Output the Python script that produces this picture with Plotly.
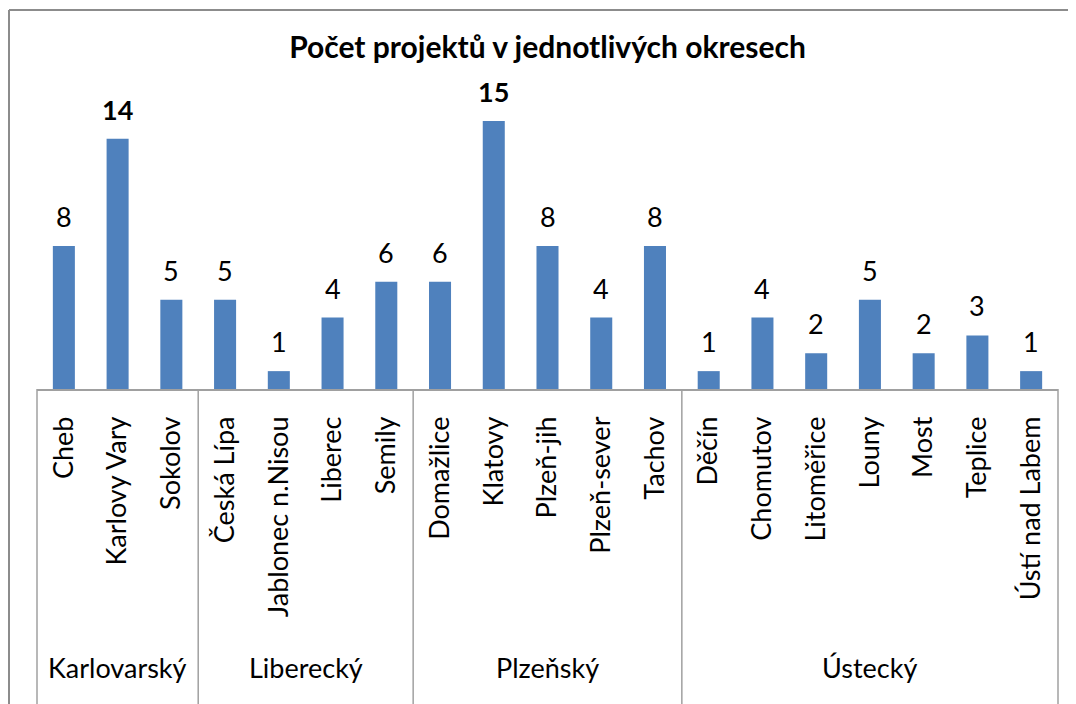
import plotly.graph_objects as go

regions = ["Karlovarský", "Liberecký", "Plzeňský", "Ústecký"]
districts = [
    ["Cheb", "Karlovy Vary", "Sokolov"],
    ["Česká Lípa", "Jablonec n.Nisou", "Liberec", "Semily"],
    ["Domažlice", "Klatovy", "Plzeň-jih", "Plzeň-sever", "Tachov"],
    ["Děčín", "Chomutov", "Litoměřice", "Louny", "Most", "Teplice", "Ústí nad Labem"],
]
counts = [
    [8, 14, 5],
    [5, 1, 4, 6],
    [6, 15, 8, 4, 8],
    [1, 4, 2, 5, 2, 3, 1],
]
title = "Počet projektů v jednotlivých okresech"

FONT = "Lato"
FS = 27
BAR = "#4F81BD"
GRID = "#A0A0A0"

names = [d for g in districts for d in g]
vals = [v for g in counts for v in g]
idx = list(range(len(names)))
n = len(names)

fig = go.Figure(go.Bar(x=idx, y=vals, marker=dict(color=BAR, line=dict(width=0)), width=0.41))

OFF = 8  # page body margin
W, H = 1068, 696
L, R, T, B = 37 - OFF, 1058 - OFF, 103 - OFF, 389 - OFF
ph = B - T
pw = R - L

ann = []
for i, v in zip(idx, vals):
    txt = f"<b>{v}</b>" if v >= 14 else str(v)
    ann.append(dict(x=i, y=v, xref="x", yref="y", text=txt, showarrow=False,
                    yanchor="bottom", yshift=11, font=dict(family=FONT, size=FS, color="black")))

shapes = []
start = 0
bounds = [0]
for g_name, g in zip(regions, districts):
    c = start + (len(g) - 1) / 2
    ann.append(dict(x=c, y=0, xref="x", yref="paper", text=g_name, showarrow=False,
                    yanchor="middle", yshift=-(667 - 389), font=dict(family=FONT, size=FS, color="black")))
    start += len(g)
    bounds.append(start)

for b in bounds:
    xp = b / n
    shapes.append(dict(type="line", xref="paper", yref="paper", x0=xp, x1=xp,
                       y0=0, y1=-(H - B + 10) / ph, line=dict(color=GRID, width=1.5)))

# outer chart frame (left and top)
fx = (1 - L) / pw
fy = (B - 2) / ph
shapes.append(dict(type="line", xref="paper", yref="paper", x0=fx, x1=fx, y0=fy, y1=-(H - B + 10) / ph,
                   line=dict(color="#8C8C8C", width=2)))
shapes.append(dict(type="line", xref="paper", yref="paper", x0=fx, x1=(W - L + 20) / pw, y0=fy, y1=fy,
                   line=dict(color="#8C8C8C", width=2)))

fig.update_layout(
    width=W, height=H,
    margin=dict(l=L, r=W - R, t=T, b=H - B, pad=0),
    paper_bgcolor="white", plot_bgcolor="white",
    showlegend=False,
    title=dict(text=f"<b>{title}</b>", x=0.5, xref="paper", y=1 - (47 - OFF) / H, yref="container",
               xanchor="center", yanchor="middle", font=dict(family=FONT, size=30, color="black")),
    xaxis=dict(range=[-0.5, n - 0.5], tickmode="array", tickvals=idx, ticktext=names,
               tickangle=-90, ticks="", showgrid=False, zeroline=False,
               showline=True, linecolor=GRID, linewidth=1.5,
               ticklabelstandoff=15,
               tickfont=dict(family=FONT, size=FS, color="black")),
    yaxis=dict(range=[0, 16], visible=False, showgrid=False, zeroline=False),
    annotations=ann,
    shapes=shapes,
)

fig.write_html("out.html")
